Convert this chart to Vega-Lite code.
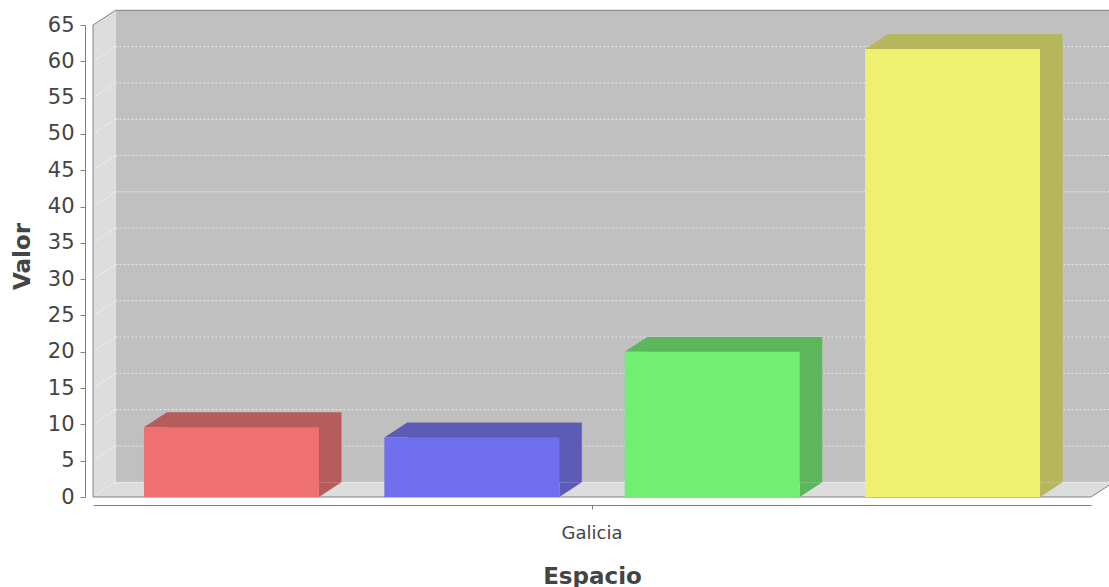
{
  "$schema": "https://vega.github.io/schema/vega-lite/v6.json",
  "width": 998,
  "height": 472,
  "autosize": "none",
  "padding": {"left": 93, "top": 25, "right": 18, "bottom": 90},
  "background": "white",
  "config": {
    "view": {"stroke": null},
    "font": "DejaVu Sans",
    "axis": {"labelFont": "DejaVu Sans", "titleFont": "DejaVu Sans"}
  },
  "datasets": {
    "valores": [
      {"espacio": "Galicia", "serie": "Serie 1", "valor": 9.6},
      {"espacio": "Galicia", "serie": "Serie 2", "valor": 8.2},
      {"espacio": "Galicia", "serie": "Serie 3", "valor": 20.0},
      {"espacio": "Galicia", "serie": "Serie 4", "valor": 61.7}
    ],
    "rejilla": [
      {"v": 0}, {"v": 5}, {"v": 10}, {"v": 15}, {"v": 20}, {"v": 25}, {"v": 30},
      {"v": 35}, {"v": 40}, {"v": 45}, {"v": 50}, {"v": 55}, {"v": 60}
    ],
    "marco": [{}]
  },
  "resolve": {
    "scale": {"x": "independent", "xOffset": "independent"},
    "axis": {"y": "independent"}
  },
  "layer": [
    {
      "description": "back wall of the 3D plot; this layer also draws the value axis",
      "data": {"name": "marco"},
      "mark": {"type": "rect", "color": "#c0c0c0", "xOffset": 22.5, "x2Offset": 22.5, "yOffset": -14.7, "y2Offset": -14.7},
      "encoding": {
        "x": {"value": 0}, "x2": {"value": "width"},
        "y": {
          "datum": 65, "type": "quantitative",
          "scale": {"domain": [0, 65], "nice": false, "zero": true},
          "axis": {
            "orient": "left", "title": "Valor", "offset": 8,
            "values": [0, 5, 10, 15, 20, 25, 30, 35, 40, 45, 50, 55, 60, 65],
            "labelOverlap": false, "labelFlush": false, "grid": false,
            "domainColor": "#808080", "tickColor": "#808080", "tickSize": 5,
            "labelFontSize": 21, "labelColor": "#444444", "labelPadding": 6,
            "titleFontSize": 23, "titleFontWeight": "bold", "titleColor": "#444444",
            "titleAngle": -90, "titleAlign": "center", "titleBaseline": "alphabetic",
            "titleX": -56, "titleY": 231
          }
        },
        "y2": {"datum": 0}
      }
    },
    {
      "description": "left wall",
      "data": {"name": "marco"},
      "mark": {"type": "rect", "color": "#dddddd"},
      "encoding": {
        "x": {"value": 0}, "x2": {"value": 22.5},
        "y": {"datum": 65, "type": "quantitative", "axis": null}, "y2": {"datum": 0}
      }
    },
    {
      "description": "floor",
      "data": {"name": "marco"},
      "mark": {"type": "rect", "color": "#dddddd", "yOffset": -14.7},
      "encoding": {
        "x": {"value": 0}, "x2": {"value": "width"},
        "y": {"datum": 0, "type": "quantitative", "axis": null}, "y2": {"datum": 0}
      }
    },
    {
      "description": "slanted top of the left wall",
      "data": {"name": "marco"},
      "mark": {"type": "point", "shape": "M0,0L22.5,-14.7L22.5,0Z", "size": 4, "filled": true, "opacity": 1, "strokeWidth": 0, "color": "#dddddd"},
      "encoding": {"x": {"value": 0}, "y": {"datum": 65, "type": "quantitative", "axis": null}}
    },
    {
      "description": "slanted right end of the floor",
      "data": {"name": "marco"},
      "mark": {"type": "point", "shape": "M0,0L0,-14.7L22.5,-14.7Z", "size": 4, "filled": true, "opacity": 1, "strokeWidth": 0, "color": "#dddddd"},
      "encoding": {"x": {"value": "width"}, "y": {"datum": 0, "type": "quantitative", "axis": null}}
    },
    {
      "description": "dashed gridlines on the back wall",
      "data": {"name": "rejilla"},
      "mark": {"type": "rule", "color": "#ffffff", "strokeWidth": 0.7, "strokeDash": [2, 2], "xOffset": 22.5, "x2Offset": 22.5, "yOffset": -14.7},
      "encoding": {
        "x": {"value": 0}, "x2": {"value": "width"},
        "y": {"field": "v", "type": "quantitative", "axis": null}
      }
    },
    {
      "description": "dashed gridlines across the left wall",
      "data": {"name": "rejilla"},
      "mark": {"type": "rule", "color": "#ffffff", "strokeWidth": 0.7, "strokeDash": [2, 2], "x2Offset": 22.5, "y2Offset": -14.7},
      "encoding": {
        "x": {"value": 0}, "x2": {"value": 0},
        "y": {"field": "v", "type": "quantitative", "axis": null}, "y2": {"field": "v"}
      }
    },
    {
      "description": "outline: front left edge",
      "data": {"name": "marco"},
      "mark": {"type": "rule", "color": "#808080", "strokeWidth": 1},
      "encoding": {"x": {"value": 0}, "y": {"datum": 65, "type": "quantitative", "axis": null}, "y2": {"datum": 0}}
    },
    {
      "description": "outline: top left slant",
      "data": {"name": "marco"},
      "mark": {"type": "rule", "color": "#808080", "strokeWidth": 1, "x2Offset": 22.5, "y2Offset": -14.7},
      "encoding": {"x": {"value": 0}, "x2": {"value": 0}, "y": {"datum": 65, "type": "quantitative", "axis": null}, "y2": {"datum": 65}}
    },
    {
      "description": "outline: top edge of the back wall",
      "data": {"name": "marco"},
      "mark": {"type": "rule", "color": "#808080", "strokeWidth": 1, "xOffset": 22.5, "x2Offset": 22.5, "yOffset": -14.7},
      "encoding": {"x": {"value": 0}, "x2": {"value": "width"}, "y": {"datum": 65, "type": "quantitative", "axis": null}}
    },
    {
      "description": "outline: front edge of the floor",
      "data": {"name": "marco"},
      "mark": {"type": "rule", "color": "#808080", "strokeWidth": 1},
      "encoding": {"x": {"value": 0}, "x2": {"value": "width"}, "y": {"datum": 0, "type": "quantitative", "axis": null}}
    },
    {
      "description": "outline: right slant of the floor",
      "data": {"name": "marco"},
      "mark": {"type": "rule", "color": "#808080", "strokeWidth": 1, "x2Offset": 22.5, "y2Offset": -14.7},
      "encoding": {"x": {"value": "width"}, "x2": {"value": "width"}, "y": {"datum": 0, "type": "quantitative", "axis": null}, "y2": {"datum": 0}}
    },
    {
      "description": "shaded depth of each bar: a copy pushed back by the 3D depth",
      "data": {"name": "valores"},
      "mark": {"type": "bar", "yOffset": -14.7, "y2Offset": -14.7},
      "encoding": {
        "x": {"field": "espacio", "type": "nominal", "axis": null,
              "scale": {"paddingInner": 0, "paddingOuter": 0, "range": [22.5, 1020.5]}},
        "xOffset": {"field": "serie", "type": "nominal", "scale": {"paddingInner": 0.272, "paddingOuter": 0.212}},
        "y": {"field": "valor", "type": "quantitative", "axis": null},
        "fill": {"field": "serie", "type": "nominal", "legend": null,
                 "scale": {"range": ["#b65c5c", "#5c5cb6", "#5cb65c", "#b6b65c"]}}
      }
    },
    {
      "layer": [
        {
          "description": "shaded top face of each bar",
          "data": {"name": "valores"},
          "mark": {"type": "point", "shape": "M-87.5,0L-65,-14.7L110,-14.7L87.5,0Z", "size": 4, "filled": true, "opacity": 1, "strokeWidth": 0},
          "encoding": {
            "x": {"field": "espacio", "type": "nominal"},
            "xOffset": {"field": "serie", "type": "nominal"},
            "y": {"field": "valor", "type": "quantitative", "axis": null},
            "fill": {"field": "serie", "type": "nominal", "legend": null}
          }
        },
        {
          "description": "shaded foot of each bar's side face",
          "data": {"name": "valores"},
          "mark": {"type": "point", "shape": "M87.5,0L87.5,-14.7L110,-14.7Z", "size": 4, "filled": true, "opacity": 1, "strokeWidth": 0},
          "encoding": {
            "x": {"field": "espacio", "type": "nominal"},
            "xOffset": {"field": "serie", "type": "nominal"},
            "y": {"datum": 0, "type": "quantitative", "axis": null},
            "fill": {"field": "serie", "type": "nominal", "legend": null}
          }
        },
        {
          "description": "front face of each bar",
          "data": {"name": "valores"},
          "mark": {"type": "bar"},
          "encoding": {
            "x": {
              "field": "espacio", "type": "nominal",
              "scale": {"paddingInner": 0, "paddingOuter": 0},
              "axis": {
                "title": "Espacio", "offset": 8, "bandPosition": 0.5,
                "domainColor": "#808080", "tickColor": "#808080", "tickSize": 4,
                "labelFontSize": 18, "labelColor": "#444444", "labelPadding": 24,
                "labelAngle": 0, "labelAlign": "center", "labelFlush": false,
                "titleFontSize": 23, "titleFontWeight": "bold", "titleColor": "#444444",
                "titleBaseline": "alphabetic", "titleY": 78, "grid": false
              }
            },
            "xOffset": {"field": "serie", "type": "nominal", "scale": {"paddingInner": 0.272, "paddingOuter": 0.212}},
            "y": {"field": "valor", "type": "quantitative", "axis": null},
            "color": {"field": "serie", "type": "nominal", "legend": null,
                      "scale": {"range": ["#ef7070", "#7070ef", "#70ef70", "#efef70"]}}
          }
        }
      ]
    }
  ]
}
